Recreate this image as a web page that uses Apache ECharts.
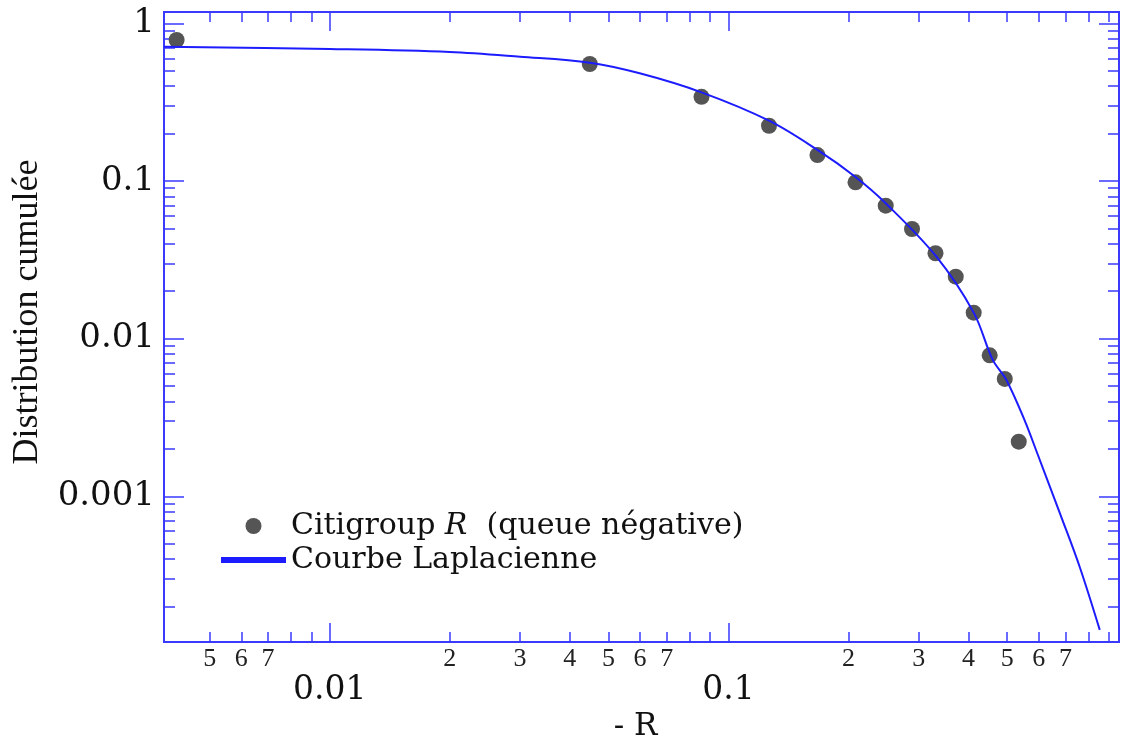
<!DOCTYPE html>
<html>
<head>
<meta charset="utf-8">
<script src="https://cdn.jsdelivr.net/npm/echarts@6/dist/echarts.min.js"></script>
<style>html,body{margin:0;padding:0;background:#fff}#c{width:1122px;height:742px}</style>
</head>
<body>
<div id="c"></div>
<script>
// Observed points: Citigroup R (negative tail)
const pointsX = [0.00413, 0.0449, 0.0856, 0.1264, 0.1672, 0.2083, 0.248, 0.2887, 0.3306, 0.3716, 0.4122, 0.4521, 0.4932, 0.5347];
const pointsY = [0.784, 0.552, 0.342, 0.224, 0.146, 0.0981, 0.0697, 0.0496, 0.0348, 0.0247, 0.0146, 0.00783, 0.00555, 0.00222];
// Laplacian curve
const curveX = [0.00384, 0.01, 0.02, 0.03, 0.0449, 0.0599, 0.0856, 0.1264, 0.1672, 0.2083, 0.248, 0.3324, 0.4122, 0.4602, 0.4979, 0.5535, 0.5976, 0.6842, 0.7604, 0.8537];
const curveY = [0.7105, 0.687, 0.658, 0.614, 0.5625, 0.482, 0.365, 0.2412, 0.1573, 0.106, 0.0722, 0.0331, 0.01462, 0.00733, 0.00547, 0.00302, 0.00182, 0.000735, 0.000356, 0.000142];
// Tick values
const xMajorTicks = [0.01, 0.1];
const xMinorTicks = [0.005, 0.006, 0.007, 0.008, 0.009, 0.02, 0.03, 0.04, 0.05, 0.06, 0.07, 0.08, 0.09, 0.2, 0.3, 0.4, 0.5, 0.6, 0.7, 0.8, 0.9];
const xMinorLabels = [0.005, 0.006, 0.007, 0.02, 0.03, 0.04, 0.05, 0.06, 0.07, 0.2, 0.3, 0.4, 0.5, 0.6, 0.7];
const yMajorTicks = [1, 0.1, 0.01, 0.001];
const yMinorTicks = [0.9, 0.8, 0.7, 0.6, 0.5, 0.4, 0.3, 0.2, 0.09, 0.08, 0.07, 0.06, 0.05, 0.04, 0.03, 0.02, 0.009, 0.008, 0.007, 0.006, 0.005, 0.004, 0.003, 0.002, 0.0009, 0.0008, 0.0007, 0.0006, 0.0005, 0.0004, 0.0003, 0.0002];
const yLabels = ['1', '0.1', '0.01', '0.001'];
const xRange = [0.00384, 0.954];
const yRange = [0.000119, 1.18];

const AX = '#3a3aff';
const CURVE = '#1c1cff';
const SERIF = 'Liberation Serif';
const WSERIF = 'DejaVu Serif';

function leadDigit(v) {
  const e = Math.floor(Math.log10(v) + 1e-9);
  return String(Math.round(v / Math.pow(10, e)));
}
function xAxisDef(pos, ticks, len, labels) {
  return {
    type: 'log', position: pos, min: xRange[0], max: xRange[1], gridIndex: 0,
    axisLine: {show: false}, splitLine: {show: false}, minorTick: {show: false},
    axisTick: {show: true, inside: true, length: len, customValues: ticks, lineStyle: {color: AX, width: 1.5}},
    axisLabel: labels || {show: false}
  };
}
function yAxisDef(pos, ticks, len, labels) {
  return {
    type: 'log', position: pos, min: yRange[0], max: yRange[1], gridIndex: 0,
    axisLine: {show: false}, splitLine: {show: false}, minorTick: {show: false},
    axisTick: {show: true, inside: true, length: len, customValues: ticks, lineStyle: {color: AX, width: 1.5}},
    axisLabel: labels || {show: false}
  };
}

const chart = echarts.init(document.getElementById('c'), null, {renderer: 'canvas'});
const xA0 = xAxisDef('bottom', xMinorTicks, 10, {
  show: true, customValues: xMinorLabels, margin: 4, color: '#222',
  fontFamily: SERIF, fontSize: 26, formatter: v => leadDigit(v)
});
const xA1 = xAxisDef('bottom', xMajorTicks, 19, {
  show: true, customValues: xMajorTicks, margin: 32, color: '#111',
  fontFamily: WSERIF, fontSize: 33, formatter: v => (v >= 0.1 ? '0.1' : '0.01')
});
xA1.name = '- R';
xA1.nameLocation = 'middle';
xA1.nameGap = 64;
xA1.nameTextStyle = {fontFamily: WSERIF, fontSize: 31, color: '#111', padding: [0, 12, 0, 0]};
const yA1 = yAxisDef('left', yMajorTicks, 20, {
  show: true, customValues: yMajorTicks, margin: 9, color: '#111',
  fontFamily: WSERIF, fontSize: 34,
  formatter: v => yLabels[Math.round(-Math.log10(v))]
});
yA1.name = 'Distribution cumulée';
yA1.nameLocation = 'middle';
yA1.nameRotate = 90;
yA1.nameGap = 118;
yA1.nameTextStyle = {fontFamily: SERIF, fontSize: 36, color: '#111', padding: [0, 0, 0, 30]};

chart.setOption({
  backgroundColor: '#fff',
  animation: false,
  grid: {left: 164, top: 12, width: 955, height: 630, outerBoundsMode: 'none', containLabel: false,
         show: true, borderColor: AX, borderWidth: 2, backgroundColor: 'transparent'},
  xAxis: [xA0, xA1, xAxisDef('top', xMinorTicks, 10), xAxisDef('top', xMajorTicks, 19)],
  yAxis: [yAxisDef('left', yMinorTicks, 11), yA1, yAxisDef('right', yMinorTicks, 11), yAxisDef('right', yMajorTicks, 20)],
  legend: {
    left: 216, top: 506, orient: 'vertical', itemWidth: 65, itemHeight: 16, itemGap: 4,
    symbolKeepAspect: true,
    data: [
      {name: 'Citigroup', icon: 'circle'},
      {name: 'Courbe Laplacienne', icon: 'path://M0,0 H65 V6 H0 Z'}
    ],
    formatter: n => n === 'Citigroup' ? '{a|Citigroup }{i|R}{a|  (queue négative)}' : '{a|Courbe Laplacienne}',
    textStyle: {
      rich: {
        a: {fontFamily: WSERIF, fontSize: 30, color: '#111', lineHeight: 32},
        i: {fontFamily: WSERIF, fontSize: 30, fontStyle: 'italic', color: '#111', lineHeight: 32}
      }
    }
  },
  series: [
    {
      name: 'Citigroup', type: 'scatter', xAxisIndex: 0, yAxisIndex: 0,
      symbol: 'circle', symbolSize: 16, itemStyle: {color: '#555555', opacity: 1},
      data: pointsX.map((x, i) => [x, pointsY[i]]), z: 3
    },
    {
      name: 'Courbe Laplacienne', type: 'line', xAxisIndex: 0, yAxisIndex: 0,
      smooth: 0.35, showSymbol: false, symbol: 'none',
      lineStyle: {color: CURVE, width: 2}, itemStyle: {color: CURVE},
      data: curveX.map((x, i) => [x, curveY[i]]), z: 4
    }
  ]
});
</script>
</body>
</html>
